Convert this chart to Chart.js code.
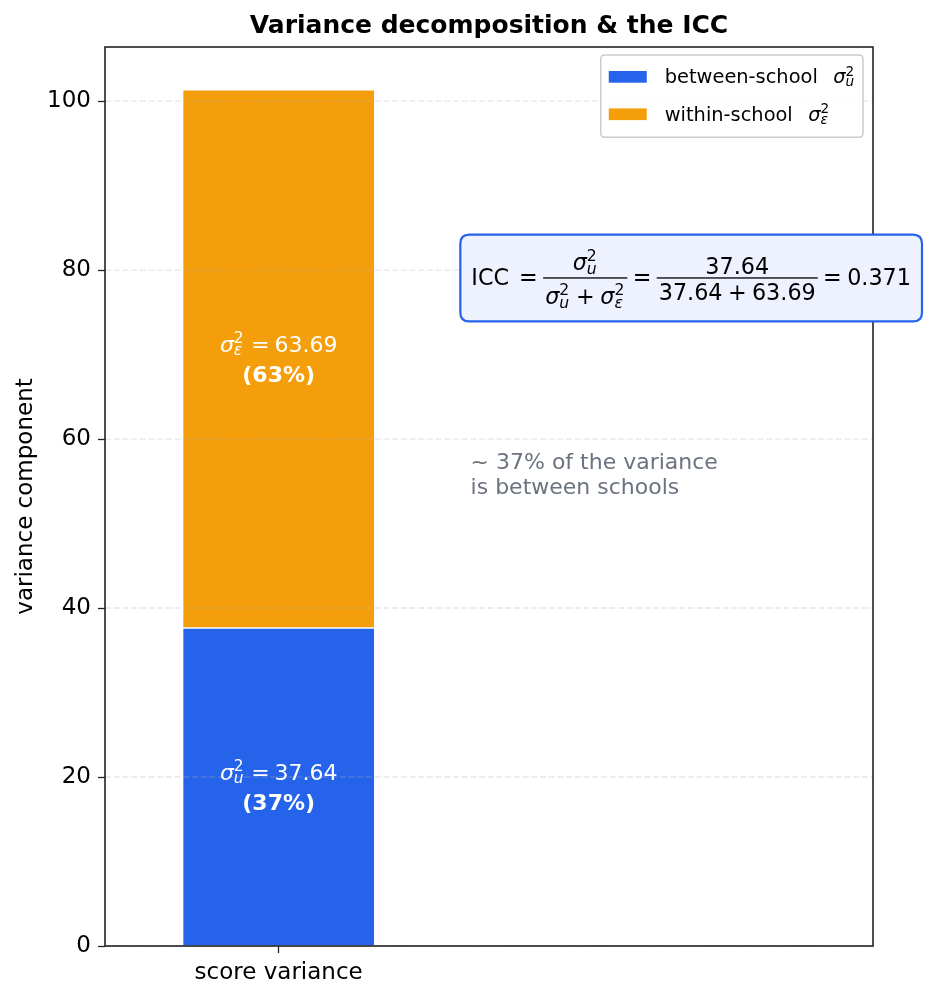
<!DOCTYPE html>
<html><head><meta charset="utf-8">
<script src="https://cdn.jsdelivr.net/npm/chart.js@4.4.1/dist/chart.umd.min.js"></script>
<style>html,body{margin:0;padding:0;background:#fff;}canvas{display:block;}</style>
</head><body>
<canvas id="c" width="927" height="999" style="width:927px;height:999px"></canvas>
<script>
// ---- data ----
const CATEGORIES = ['score variance'];
const SERIES_NAMES = ['between-school', 'within-school'];
const SERIES_SUBS = ['u', 'ε'];
const BETWEEN = [37.64];
const WITHIN = [63.69];
const Y_TICK_STEP = 20;
const TITLE = 'Variance decomposition & the ICC';
const Y_LABEL = 'variance component';

// ---- styles ----
const BLUE = '#2563eb', ORANGE = '#f59e0b', GRAY = '#6b7280';
const COLORS = [BLUE, ORANGE];
const FAM = '"DejaVu Sans"';

const TOTAL = BETWEEN[0] + WITHIN[0];
const Y_MAX = TOTAL * 1.05;
const ICC = BETWEEN[0] / TOTAL;

function setFont(ctx, st, px){ ctx.font = `${st||'normal'} ${px}px ${FAM}`; }
const sig = (sub) => [{s:'σ', st:'italic'}, {up:{s:'2'}, dn:{s:sub, st:'italic'}}];

function pieceWidth(ctx, p, px){
  if (p.gap !== undefined) return p.gap * px;
  if (p.frac) return fracWidth(ctx, p.frac, px);
  if (p.up || p.dn){
    let a = 0, b = 0;
    if (p.up){ setFont(ctx, p.up.st, px*0.7); a = ctx.measureText(p.up.s).width; }
    if (p.dn){ setFont(ctx, p.dn.st, px*0.7); b = ctx.measureText(p.dn.s).width; }
    return Math.max(a, b) + 0.04*px;
  }
  setFont(ctx, p.st, px*(p.k||1));
  return ctx.measureText(p.s).width;
}
function measure(ctx, pieces, px){ let w = 0; for (const p of pieces) w += pieceWidth(ctx, p, px); return w; }
function hasScript(pieces){ return pieces.some(p => p.up || p.dn); }
function fracWidth(ctx, f, px){ return Math.max(measure(ctx, f.num, px), measure(ctx, f.den, px)) + 0.18*px; }
function drawPieces(ctx, pieces, x, y, px, color){
  ctx.fillStyle = color; ctx.textAlign = 'left'; ctx.textBaseline = 'alphabetic';
  for (const p of pieces){
    const w = pieceWidth(ctx, p, px);
    if (p.frac){
      const barY = y - 0.295*px;
      ctx.fillRect(x, barY - 0.65, w, 1.3);
      const nw = measure(ctx, p.frac.num, px), dw = measure(ctx, p.frac.den, px);
      const nDepth = hasScript(p.frac.num) ? 0.16*px : 0;
      const dHeight = hasScript(p.frac.den) ? 0.91*px : 0.729*px;
      drawPieces(ctx, p.frac.num, x + (w - nw)/2, barY - 0.2*px - nDepth, px, color);
      drawPieces(ctx, p.frac.den, x + (w - dw)/2, barY + 0.26*px + dHeight, px, color);
    } else if (p.up || p.dn){
      if (p.up){ setFont(ctx, p.up.st, px*0.7); ctx.fillText(p.up.s, x, y - 0.40*px); }
      if (p.dn){ setFont(ctx, p.dn.st, px*0.7); ctx.fillText(p.dn.s, x, y + 0.16*px); }
    } else if (p.gap === undefined){
      setFont(ctx, p.st, px*(p.k||1)); ctx.fillText(p.s, x, y);
    }
    x += w;
  }
  return x;
}
function roundRect(ctx, x, y, w, h, r){
  ctx.beginPath();
  ctx.moveTo(x+r, y); ctx.lineTo(x+w-r, y); ctx.quadraticCurveTo(x+w, y, x+w, y+r);
  ctx.lineTo(x+w, y+h-r); ctx.quadraticCurveTo(x+w, y+h, x+w-r, y+h);
  ctx.lineTo(x+r, y+h); ctx.quadraticCurveTo(x, y+h, x, y+h-r);
  ctx.lineTo(x, y+r); ctx.quadraticCurveTo(x, y, x+r, y); ctx.closePath();
}

const overlay = {
  id: 'overlay',
  afterDatasetsDraw(chart){
    const {ctx, chartArea:a, scales:{x, y}} = chart;
    ctx.save();
    // dashed grid over bars
    ctx.strokeStyle = 'rgba(176,176,176,0.3)'; ctx.lineWidth = 1.3; ctx.setLineDash([6, 2.7]);
    y.ticks.forEach(t => {
      const py = y.getPixelForValue(t.value);
      ctx.beginPath(); ctx.moveTo(a.left, py); ctx.lineTo(a.right, py); ctx.stroke();
    });
    ctx.setLineDash([]);
    // bar labels
    const FS = 22;
    CATEGORIES.forEach((c, i) => {
      const cx = x.getPixelForValue(i);
      const segs = [
        {sub: SERIES_SUBS[0], v: BETWEEN[i], mid: BETWEEN[i]/2},
        {sub: SERIES_SUBS[1], v: WITHIN[i], mid: BETWEEN[i] + WITHIN[i]/2}
      ];
      const tot = BETWEEN[i] + WITHIN[i];
      segs.forEach(sg => {
        const py = y.getPixelForValue(sg.mid);
        const pieces = [...sig(sg.sub), {gap:0.3}, {s:'='}, {gap:0.22}, {s: sg.v.toFixed(2)}];
        const w = measure(ctx, pieces, FS);
        drawPieces(ctx, pieces, cx - w/2, py - 7, FS, '#fff');
        setFont(ctx, 'bold', FS); ctx.textAlign = 'center'; ctx.fillStyle = '#fff';
        ctx.fillText(`(${Math.round(sg.v/tot*100)}%)`, cx, py + 23);
      });
    });
    ctx.restore();
  },
  afterDraw(chart){
    const {ctx, chartArea:a} = chart;
    ctx.save();
    // frame
    ctx.strokeStyle = '#222'; ctx.lineWidth = 1.6;
    ctx.strokeRect(a.left, a.top, a.right - a.left, a.bottom - a.top);
    // title
    setFont(ctx, 'bold', 25); ctx.fillStyle = '#000'; ctx.textAlign = 'center'; ctx.textBaseline = 'alphabetic';
    ctx.fillText(TITLE, (a.left + a.right)/2, 33);
    // y label
    ctx.save();
    ctx.translate(32, (a.top + a.bottom)/2); ctx.rotate(-Math.PI/2);
    setFont(ctx, 'normal', 23); ctx.textAlign = 'center';
    ctx.fillText(Y_LABEL, 0, 0);
    ctx.restore();
    // legend
    const LFS = 19.4;
    const rows = SERIES_NAMES.map((n, i) => ({color: COLORS[i], pieces: [{s:n}, {gap:0.8}, ...sig(SERIES_SUBS[i])]}));
    const tw = Math.max(...rows.map(r => measure(ctx, r.pieces, LFS)));
    const bw = 8 + 38 + 18 + tw + 8, bh = 82.3;
    const bx = a.right - 10 - bw, by = a.top + 8;
    roundRect(ctx, bx, by, bw, bh, 4);
    ctx.fillStyle = 'rgba(255,255,255,0.85)'; ctx.fill();
    ctx.strokeStyle = '#cccccc'; ctx.lineWidth = 1.5; ctx.stroke();
    rows.forEach((r, i) => {
      const cy = by + 21.8 + i*37.4;
      ctx.fillStyle = r.color; ctx.fillRect(bx + 8, cy - 5.8, 38, 11.7);
      drawPieces(ctx, r.pieces, bx + 64, cy + 6.5, LFS, '#000');
    });
    // ICC box
    const FS = 22.3;
    const b = BETWEEN[0].toFixed(2), wv = WITHIN[0].toFixed(2);
    const frac1 = {num: sig(SERIES_SUBS[0]), den: [...sig(SERIES_SUBS[0]), {gap:0.26}, {s:'+'}, {gap:0.26}, ...sig(SERIES_SUBS[1])]};
    const frac2 = {num: [{s:b}], den: [{s:b}, {gap:0.24}, {s:'+'}, {gap:0.24}, {s:wv}]};
    const G = 0.24;
    const eq = [{s:'ICC'}, {gap:0.45}, {s:'='}, {gap:G}, {frac:frac1}, {gap:G}, {s:'='}, {gap:G}, {frac:frac2}, {gap:G}, {s:'='}, {gap:G}, {s: ICC.toFixed(3)}];
    const W = measure(ctx, eq, FS);
    const ox = a.left + 0.477*(a.right - a.left);
    const cyB = a.bottom - 0.743*(a.bottom - a.top);
    roundRect(ctx, ox - 11, cyB - 43.4, W + 22, 86.8, 9);
    ctx.fillStyle = '#eef2ff'; ctx.fill();
    ctx.strokeStyle = BLUE; ctx.lineWidth = 2.2; ctx.stroke();
    drawPieces(ctx, eq, ox, cyB + 6.5, FS, '#000');
    // gray note
    const sy = chart.scales.y, sx = chart.scales.x;
    const gx = sx.getPixelForValue(0.505), gy = sy.getPixelForValue(55.7);
    setFont(ctx, 'normal', 22); ctx.fillStyle = GRAY; ctx.textAlign = 'left';
    const pct = Math.round(ICC*100);
    ctx.fillText(`~ ${pct}% of the variance`, gx, gy - 6.5);
    ctx.fillText('is between schools', gx, gy + 18.5);
    ctx.restore();
  }
};

new Chart(document.getElementById('c'), {
  type: 'bar',
  data: {
    datasets: [
      {label: SERIES_NAMES[0], data: CATEGORIES.map((c, i) => ({x: i, y: BETWEEN[i]})), backgroundColor: BLUE,
       borderColor: '#fff', borderWidth: 1, borderSkipped: 'start', barThickness: 192},
      {label: SERIES_NAMES[1], data: CATEGORIES.map((c, i) => ({x: i, y: WITHIN[i]})), backgroundColor: ORANGE,
       borderColor: '#fff', borderWidth: 1, borderSkipped: false, barThickness: 192}
    ]
  },
  options: {
    responsive: false, devicePixelRatio: 1, animation: false,
    layout: {padding: {top: 47, right: 54, left: 0, bottom: 0}},
    plugins: {legend: {display: false}, title: {display: false}, tooltip: {enabled: false}},
    scales: {
      x: {
        type: 'linear', min: -0.457, max: 1.564, stacked: true, offset: false,
        grid: {offset: false, drawOnChartArea: false, drawTicks: true, tickLength: 7, tickColor: '#222', tickWidth: 1.3},
        border: {display: false},
        ticks: {font: {family: 'DejaVu Sans', size: 23}, color: '#000', padding: 6, maxRotation: 0,
                callback: (v) => CATEGORIES[v] !== undefined ? CATEGORIES[v] : ''},
        afterBuildTicks: (s) => { s.ticks = CATEGORIES.map((c, i) => ({value: i})); },
        afterFit: (s) => { s.height = 53; }
      },
      y: {
        type: 'linear', min: 0, max: Y_MAX, stacked: true,
        grid: {drawOnChartArea: false, drawTicks: true, tickLength: 7, tickColor: '#222', tickWidth: 1.3},
        border: {display: false},
        ticks: {stepSize: Y_TICK_STEP, includeBounds: false, font: {family: 'DejaVu Sans', size: 23}, color: '#000', padding: 7},
        afterFit: (s) => { s.width = 105; }
      }
    }
  },
  plugins: [overlay]
});
</script>
</body></html>
